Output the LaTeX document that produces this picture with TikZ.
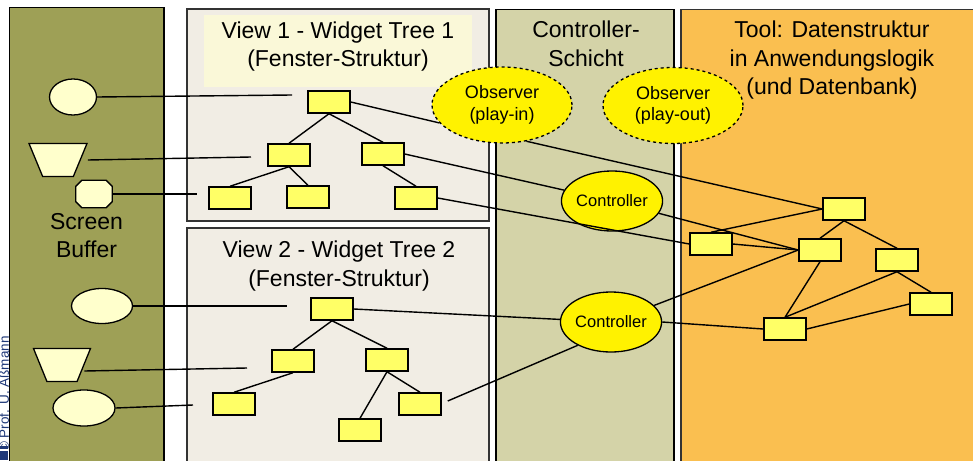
\documentclass[tikz,border=0pt]{standalone}
\usepackage{fontspec}
\setmainfont{Liberation Sans}
\usepackage{tikz}
\usetikzlibrary{calc,positioning,shapes.geometric,shapes.misc}
\definecolor{bufferolive}{RGB}{158,160,86}
\definecolor{viewbeige}{RGB}{241,237,228}
\definecolor{titleyellow}{RGB}{250,248,216}
\definecolor{ctrlgreen}{RGB}{212,211,168}
\definecolor{toolorange}{RGB}{250,191,80}
\definecolor{widgetyellow}{RGB}{255,255,102}
\definecolor{shapecream}{RGB}{255,255,204}
\definecolor{logoblue}{RGB}{31,56,120}

\begin{document}
\begin{tikzpicture}[x=1pt,y=-1pt,
  panel/.style={draw=black!80,line width=1.5pt},
  widget/.style={draw=black,fill=widgetyellow,line width=1.5pt,minimum width=42pt,minimum height=22pt,inner sep=0pt},
  bufshape/.style={draw=black,fill=shapecream,line width=1.3pt,inner sep=0pt},
  observer/.style={ellipse,draw=black,fill=yellow,dashed,line width=1.3pt,inner sep=0pt,minimum width=140pt,minimum height=76pt,align=center,font=\fontsize{18}{21.5}\selectfont},
  ctrl/.style={ellipse,draw=black,fill=yellow,line width=1.3pt,inner sep=0pt,minimum width=101pt,minimum height=60pt,font=\fontsize{16.5}{20}\selectfont},
  trap/.style={trapezium,trapezium stretches=true,shape border rotate=180,trapezium angle=66,inner sep=1pt},
  link/.style={line width=1.4pt},
  title/.style={align=center,font=\fontsize{23}{28.5}\selectfont}]

\useasboundingbox (0,0) rectangle (973,460);

\filldraw[panel,draw=black,fill=bufferolive] (9.5,7.5) rectangle (164,470);
\filldraw[panel,fill=viewbeige] (187,9) rectangle (489,221);
\fill[titleyellow] (204,15) rectangle (472,87);
\filldraw[panel,fill=viewbeige] (187,228) rectangle (489,470);
\filldraw[panel,draw=black,fill=ctrlgreen] (496,9.5) rectangle (674,470);
\filldraw[panel,fill=toolorange] (681,9.5) rectangle (985,470);

\node[title] at (338,46.5) {View 1 - Widget Tree 1\\(Fenster-Struktur)};
\node[title] at (339,266) {View 2 - Widget Tree 2\\(Fenster-Struktur)};
\node[title] at (586,44) {Controller-\\Schicht};
\node[title] at (832,60.5) {Tool: Datenstruktur\\in Anwendungslogik\\(und Datenbank)};
\node[title] at (86.5,235.5) {Screen\\Buffer};

\node[rotate=90,anchor=base,inner sep=0pt,font=\fontsize{13.5}{16}\selectfont,text=logoblue] (credit) at (8.8,394) {\textcopyright\ Prof. U. Aßmann};
\fill[logoblue] (0,446) rectangle (8,460);
\fill[white] (0,449) rectangle (8,450.5);

\node[bufshape,ellipse,minimum width=47pt,minimum height=36pt] (buf1) at (73,97) {};
\node[bufshape,trap,minimum width=58pt,minimum height=33pt] (buf2) at (58,160) {};
\node[inner sep=0pt,minimum width=36pt,minimum height=27pt] (buf3) at (94,194) {};
\filldraw[bufshape] ([xshift=6pt]buf3.north west) -- ([xshift=-6pt]buf3.north east)
  -- ([yshift=-6pt]buf3.north east) -- ([yshift=6pt]buf3.south east)
  -- ([xshift=-6pt]buf3.south east) -- ([xshift=6pt]buf3.south west)
  -- ([yshift=6pt]buf3.south west) -- ([yshift=-6pt]buf3.north west) -- cycle;
\node[bufshape,ellipse,minimum width=61pt,minimum height=35pt] (buf4) at (102,306) {};
\node[bufshape,trap,minimum width=57pt,minimum height=33pt] (buf5) at (62,365) {};
\node[bufshape,ellipse,minimum width=62pt,minimum height=36pt] (buf6) at (84,408) {};

\coordinate (end1) at (292,95);
\coordinate (end2) at (251,157);
\coordinate (end3) at (197,194);
\coordinate (end4) at (287,306);
\coordinate (end5) at (247,368);
\coordinate (end6) at (193,405);

\node[widget] (va) at (329,102) {};
\node[widget] (vb) at (289,155) {};
\node[widget] (vc) at (383,154) {};
\node[widget] (vd) at (230,198) {};
\node[widget] (ve) at (308,197) {};
\node[widget] (vf) at (416,198) {};

\node[widget] (wa) at (332,309) {};
\node[widget] (wb) at (293,361) {};
\node[widget] (wc) at (387,360) {};
\node[widget] (wd) at (234,404) {};
\node[widget] (we) at (360,430) {};
\node[widget] (wf) at (420,404) {};

\node[widget] (ta) at (844,209) {};
\node[widget] (tb) at (711,244) {};
\node[widget] (tc) at (820,250) {};
\node[widget] (td) at (897,260) {};
\node[widget] (te) at (931,304) {};
\node[widget] (tf) at (785,329) {};

\node[observer] (obsin) at (502,105) {Observer\\(play-in)};
\node[observer] (obsout) at (673,105.5) {Observer\\(play-out)};
\node[ctrl] (ctrla) at (612,201) {Controller};
\node[ctrl] (ctrlb) at (611,322) {Controller};

\draw[link] (buf1.east) -- (end1);
\draw[link] ([xshift=7pt]buf2.east) -- (end2);
\draw[link] (buf3.east) -- (end3);
\draw[link] (buf4.east) -- (end4);
\draw[link] ([yshift=-6pt]buf5.east) -- (end5);
\draw[link] (buf6.east) -- (end6);

\draw[link] (va.south) -- (vb.north);
\draw[link] (va.south) -- (vc.north);
\draw[link] (vb.south) -- (vd.north);
\draw[link] (vb.south) -- (ve.north);
\draw[link] (vc.south) -- (vf.north);

\draw[link] (wa.south) -- (wb.north);
\draw[link] (wa.south) -- (wc.north);
\draw[link] (wb.south) -- (wd.north);
\draw[link] (wc.south) -- (we.north);
\draw[link] (wc.south) -- (wf.north);

\draw[link] (ta.south) -- (tc.north);
\draw[link] (ta.south) -- (td.north);
\draw[link] (tc.south) -- (tf.north);
\draw[link] (td.south) -- (tf.north);
\draw[link] (td.south) -- (te.north);
\draw[link] (te.west) -- (tf.east);
\draw[link] (ta.west) -- (tb.north);

\draw[link] (va.east) -- (obsin.196);
\draw[link] (obsin.304) -- (ta.west);
\draw[link] (vc.east) -- (ctrla);
\draw[link] (ctrla) -- (tc.west);
\draw[link] (vf.east) -- (tb.west);
\draw[link] (tb.east) -- (tc.west);
\draw[link] (wa.east) -- (ctrlb);
\draw[link] ([xshift=6pt,yshift=3pt]wf.east) -- (ctrlb.215);
\draw[link] (ctrlb) -- (tc.west);
\draw[link] (ctrlb.east) -- (tf.west);
\end{tikzpicture}
\end{document}
